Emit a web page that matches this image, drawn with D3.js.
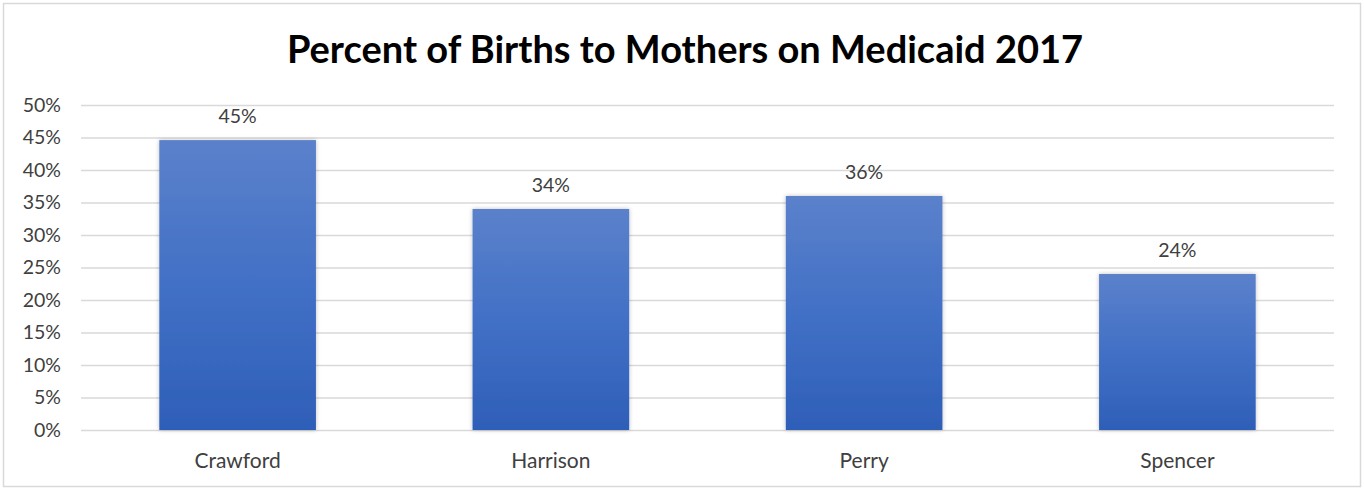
<!DOCTYPE html>
<html><head><meta charset="utf-8">
<script src="https://cdn.jsdelivr.net/npm/d3@7"></script>
<style>
html,body{margin:0;padding:0;background:#fff;}
svg{display:block;}
text{font-family:"Lato","Open Sans",sans-serif;}
</style></head>
<body>
<svg id="chart" width="1364" height="489"></svg>
<script>
const title = "Percent of Births to Mothers on Medicaid 2017";
const categories = ["Crawford","Harrison","Perry","Spencer"];
const values = [44.6, 34, 36, 24];
const valueLabels = ["45%","34%","36%","24%"];
const tickValues = [0,5,10,15,20,25,30,35,40,45,50];

const svg = d3.select("#chart");
const W = 1364, H = 489;
const m = {left:81, right:30, top:105, bottom:59};

svg.append("rect").attr("x",3.5).attr("y",3.5).attr("width",1357).attr("height",483)
  .attr("fill","#fff").attr("stroke","#d9d9d9").attr("stroke-width",1.5);

const defs = svg.append("defs");
const grad = defs.append("linearGradient").attr("id","barGrad").attr("x1",0).attr("y1",0).attr("x2",0).attr("y2",1);
grad.append("stop").attr("offset","0%").attr("stop-color","#5b81cb");
grad.append("stop").attr("offset","50%").attr("stop-color","#4270c6");
grad.append("stop").attr("offset","100%").attr("stop-color","#2e5fb8");
const f = defs.append("filter").attr("id","shadow").attr("x","-10%").attr("y","-10%").attr("width","120%").attr("height","120%");
f.append("feDropShadow").attr("dx",0).attr("dy",0).attr("stdDeviation",2).attr("flood-color","#000").attr("flood-opacity",0.25);

const x = d3.scaleBand().domain(categories).range([m.left, W - m.right]).paddingInner(0.5).paddingOuter(0.25);
const y = d3.scaleLinear().domain([0,50]).range([H - m.bottom, m.top]);

// gridlines
const gy = svg.append("g").attr("transform",`translate(${m.left},0)`)
  .call(d3.axisLeft(y).tickValues(tickValues).tickSize(-(W - m.right - m.left)).tickFormat(d => d + "%").tickPadding(20));
gy.select(".domain").remove();
gy.selectAll(".tick line").attr("stroke","#d9d9d9").attr("stroke-width",1.5);
gy.selectAll(".tick text").attr("fill","#404040").style("font-size","19.5px").style("font-family","Lato, sans-serif");

// bars
svg.append("g").selectAll("rect").data(categories).join("rect")
  .attr("x", d => x(d)).attr("width", x.bandwidth())
  .attr("y", (d,i) => y(values[i])).attr("height", (d,i) => y(0) - y(values[i]))
  .attr("fill","url(#barGrad)").attr("filter","url(#shadow)");

// value labels
svg.append("g").selectAll("text").data(categories).join("text")
  .attr("x", d => x(d) + x.bandwidth()/2)
  .attr("y", (d,i) => y(values[i]) - 17)
  .attr("text-anchor","middle").attr("fill","#404040").style("font-size","19.5px")
  .text((d,i) => valueLabels[i]);

// x axis labels
const gx = svg.append("g").attr("transform",`translate(0,${H - m.bottom})`)
  .call(d3.axisBottom(x).tickSize(0).tickPadding(23));
gx.select(".domain").remove();
gx.selectAll(".tick text").attr("fill","#404040").style("font-size","21px").style("font-family","Lato, sans-serif");

// title
svg.append("text").attr("x", 685).attr("y", 63).attr("text-anchor","middle")
  .attr("fill","#000").style("font-size","38px").style("font-weight","bold").text(title);
</script>
</body></html>
